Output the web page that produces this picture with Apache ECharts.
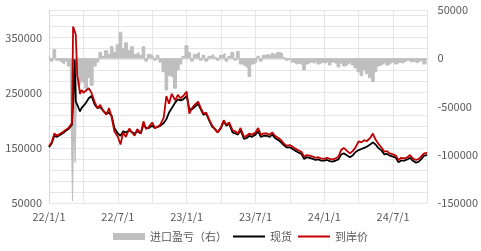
<!DOCTYPE html>
<html>
<head>
<meta charset="utf-8">
<script src="https://cdn.jsdelivr.net/npm/echarts@6/dist/echarts.min.js"></script>
<style>
html, body { margin: 0; padding: 0; background: #fff; }
#chart { width: 481px; height: 251px; }
</style>
</head>
<body>
<div id="chart"></div>
<script>
// weekly samples (extra points around the March 2022 spike)
var dates = [
    '22-01-01','22-01-08','22-01-15','22-01-22','22-02-01','22-02-08','22-02-15','22-02-22',
    '22-03-01','22-03-04','22-03-08','22-03-11','22-03-15','22-03-18','22-03-22','22-03-26',
    '22-04-01','22-04-08','22-04-15','22-04-22','22-05-01','22-05-08','22-05-15','22-05-22',
    '22-06-01','22-06-08','22-06-15','22-06-22','22-07-01','22-07-08','22-07-15','22-07-22',
    '22-08-01','22-08-08','22-08-15','22-08-22','22-09-01','22-09-08','22-09-15','22-09-22',
    '22-10-01','22-10-08','22-10-15','22-10-22','22-11-01','22-11-08','22-11-15','22-11-22',
    '22-12-01','22-12-08','22-12-15','22-12-22',
    '23-01-01','23-01-08','23-01-15','23-01-22','23-02-01','23-02-08','23-02-15','23-02-22',
    '23-03-01','23-03-08','23-03-15','23-03-22','23-04-01','23-04-08','23-04-15','23-04-22',
    '23-05-01','23-05-08','23-05-15','23-05-22','23-06-01','23-06-08','23-06-15','23-06-22',
    '23-07-01','23-07-08','23-07-15','23-07-22','23-08-01','23-08-08','23-08-15','23-08-22',
    '23-09-01','23-09-08','23-09-15','23-09-22','23-10-01','23-10-08','23-10-15','23-10-22',
    '23-11-01','23-11-08','23-11-15','23-11-22','23-12-01','23-12-08','23-12-15','23-12-22',
    '24-01-01','24-01-08','24-01-15','24-01-22','24-02-01','24-02-08','24-02-15','24-02-22',
    '24-03-01','24-03-08','24-03-15','24-03-22','24-04-01','24-04-08','24-04-15','24-04-22',
    '24-05-01','24-05-08','24-05-15','24-05-22','24-06-01','24-06-08','24-06-15','24-06-22',
    '24-07-01','24-07-08','24-07-15','24-07-22','24-08-01','24-08-08','24-08-15','24-08-22',
    '24-09-01','24-09-08','24-09-15','24-09-22','24-09-30'
];
// 现货
var spot = [
    151000,158000,172000,170000,174000,177000,181000,184000,
    192000,232000,310000,234000,228000,225000,216000,222000,
    226000,232000,240000,244000,228000,222000,224000,218000,
    212000,214000,208000,186000,176000,172000,180000,178000,
    182000,178000,176000,180000,176000,192000,186000,186000,
    190000,186000,188000,190000,195000,202000,214000,222000,
    232000,238000,236000,238000,
    244000,220000,220000,224000,230000,220000,210000,212000,
    198000,188000,184000,178000,186000,198000,190000,194000,
    178000,176000,174000,182000,166000,168000,172000,170000,
    174000,180000,170000,172000,172000,170000,174000,168000,
    164000,160000,155000,151000,151000,148000,145000,142000,
    139000,130000,133000,132000,130000,128000,129000,127000,
    127000,128000,126000,125000,127000,129000,138000,140000,
    136000,133000,136000,142000,146000,148000,150000,152000,
    156000,160000,156000,150000,145000,138000,139000,136000,
    134000,132000,124000,127000,127000,129000,132000,127000,
    123000,125000,130000,136000,137000
];
// 到岸价
var landed = [
    153000,160000,176000,172000,176000,179000,183000,186000,
    195000,370000,362000,355000,280000,270000,248000,255000,
    250000,254000,258000,250000,232000,222000,228000,218000,
    210000,222000,205000,180000,170000,156000,178000,170000,
    185000,178000,172000,184000,176000,198000,184000,188000,
    196000,186000,188000,192000,205000,244000,230000,248000,
    236000,246000,240000,244000,
    252000,212000,222000,228000,234000,222000,212000,214000,
    200000,190000,184000,178000,188000,200000,192000,196000,
    182000,180000,176000,186000,170000,172000,176000,174000,
    178000,186000,174000,176000,176000,174000,178000,172000,
    168000,164000,158000,154000,155000,152000,149000,146000,
    143000,134000,137000,136000,134000,132000,133000,131000,
    130000,132000,130000,129000,131000,134000,146000,150000,
    144000,140000,144000,150000,162000,160000,164000,162000,
    168000,176000,165000,158000,150000,143000,144000,140000,
    138000,136000,128000,132000,131000,133000,137000,131000,
    128000,130000,135000,140000,141000
];
// 进口盈亏（右）
var profit = [
    2000,-3000,9000,-2000,-4000,-6000,-3000,-8000,
    -5000,-148000,-60000,-108000,-30000,-26000,-28000,-22000,
    -25000,-31000,-20000,-28000,-8000,-4000,6000,2000,
    8000,4000,12000,6000,14000,27000,10000,16000,
    8000,12000,4000,6000,3000,12000,-3000,4000,
    2000,-2000,3000,-4000,-14000,-33000,-18000,-20000,
    -31000,-12000,-6000,2000,
    13000,6000,-3000,4000,6000,-2000,3000,-3000,
    2000,4000,1000,-2000,3000,5000,-3000,2000,
    6000,-2000,7000,-6000,-8000,-10000,-19000,-6000,
    -4000,2000,-3000,3000,4000,2000,5000,3000,
    6000,5000,1000,-2000,0,-4000,-6000,-5000,
    -7000,-12000,-6000,-4000,-5000,-3000,-6000,-4000,
    -5000,-3000,-7000,-4000,-6000,-9000,-5000,-8000,
    -6000,-4000,-7000,-10000,-14000,-18000,-12000,-16000,
    -20000,-24000,-14000,-8000,-6000,-4000,-7000,-5000,
    -3000,-6000,-4000,-5000,-3000,-2000,-4000,-3000,
    -5000,-3000,-2000,-6000,-4000
];
var xLabels = ['22/1/1', '22/7/1', '23/1/1', '23/7/1', '24/1/1', '24/7/1'];
var seriesNames = ['进口盈亏（右）', '现货', '到岸价'];

// months since 2022-01-01
function monthPos(d) {
    var p = d.split('-');
    return (parseInt(p[0], 10) - 22) * 12 + (parseInt(p[1], 10) - 1) + (parseInt(p[2], 10) - 1) / 30;
}
function pairs(vals) {
    return dates.map(function (d, i) { return [monthPos(d), vals[i]]; });
}
function plain(v) { return String(v); }

var txt = { color: '#595959', fontSize: 11, fontFamily: 'Noto Sans CJK SC' };
var gridColor = '#e6e6e6';

var chart = echarts.init(document.getElementById('chart'), null, { renderer: 'canvas' });
var option = {
    animation: false,
    textStyle: { fontFamily: 'Noto Sans CJK SC' },
    grid: { left: 49, right: 48, top: 10, bottom: 48 },
    legend: {
        data: [
            { name: seriesNames[0], icon: 'rect' },
            { name: seriesNames[1], itemStyle: { opacity: 0 }, lineStyle: { width: 2 } },
            { name: seriesNames[2], itemStyle: { opacity: 0 }, lineStyle: { width: 2 } }
        ],
        left: 'center',
        bottom: 4,
        itemWidth: 32,
        itemHeight: 7,
        itemGap: 5,
        textStyle: txt
    },
    xAxis: {
        type: 'value',
        min: 0,
        max: 33,
        interval: 6,
        axisLine: { show: true, lineStyle: { color: '#d9d9d9' } },
        axisTick: { show: true, length: 4, lineStyle: { color: '#d9d9d9' } },
        axisLabel: Object.assign({}, txt, {
            margin: 8,
            showMaxLabel: false,
            formatter: function (v) { return v % 6 === 0 ? xLabels[v / 6] : ''; }
        }),
        splitLine: { show: true, lineStyle: { color: gridColor } },
        minorTick: { show: false, splitNumber: 2 },
        minorSplitLine: { show: true, lineStyle: { color: gridColor } }
    },
    yAxis: [
        {
            type: 'value',
            min: 50000,
            max: 400000,
            interval: 100000,
            axisLine: { show: true, lineStyle: { color: '#d9d9d9' } },
            axisTick: { show: false },
            axisLabel: Object.assign({}, txt, {
                margin: 7,
                showMaxLabel: false,
                formatter: plain
            }),
            splitLine: { show: true, lineStyle: { color: gridColor } },
            minorTick: { show: false, splitNumber: 5 },
            minorSplitLine: { show: true, lineStyle: { color: gridColor } }
        },
        {
            type: 'value',
            min: -150000,
            max: 50000,
            interval: 50000,
            axisLine: { show: false },
            axisTick: { show: false },
            axisLabel: Object.assign({}, txt, { margin: 10, formatter: plain }),
            splitLine: { show: false }
        }
    ],
    series: [
        {
            name: seriesNames[0],
            type: 'line',
            yAxisIndex: 1,
            step: 'middle',
            symbol: 'none',
            lineStyle: { color: '#bfbfbf', width: 1 },
            itemStyle: { color: '#bfbfbf' },
            areaStyle: { color: '#bfbfbf', opacity: 1, origin: 0 },
            data: pairs(profit)
        },
        {
            name: seriesNames[1],
            type: 'line',
            symbol: 'none',
            lineStyle: { color: '#000000', width: 1.8 },
            itemStyle: { color: '#000000' },
            data: pairs(spot)
        },
        {
            name: seriesNames[2],
            type: 'line',
            symbol: 'none',
            lineStyle: { color: '#c00000', width: 1.8 },
            itemStyle: { color: '#c00000' },
            data: pairs(landed)
        }
    ]
};
chart.setOption(option);
window.addEventListener('resize', chart.resize);
</script>
</body>
</html>
